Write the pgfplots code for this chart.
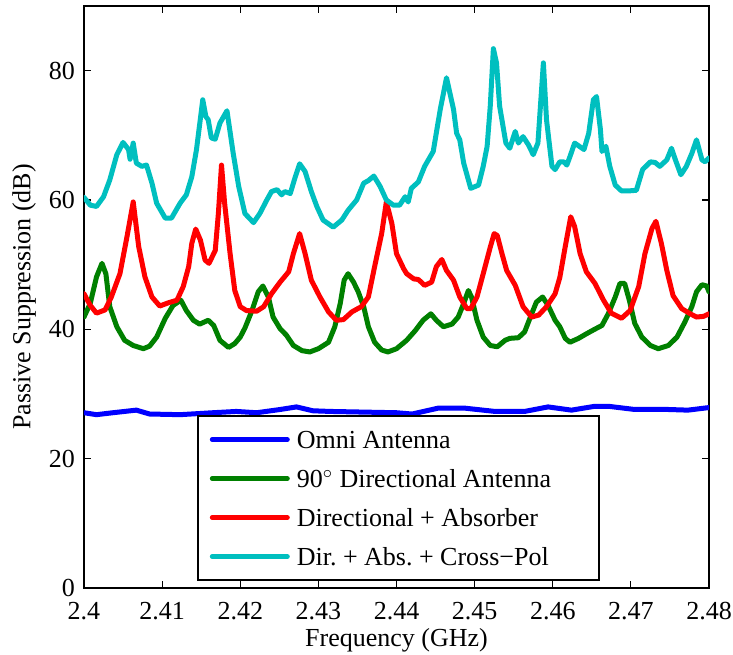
\documentclass[border=0pt]{standalone}
\usepackage{pgfplots}
\pgfplotsset{compat=1.18}
\usepackage{fontspec}
\setmainfont{Liberation Serif}
\definecolor{mblue}{RGB}{0,0,255}
\definecolor{mgreen}{RGB}{0,128,0}
\definecolor{mred}{RGB}{255,0,0}
\definecolor{mcyan}{RGB}{0,191,191}
\newcommand{\myfont}{\fontsize{13}{15}\selectfont}
\begin{document}
\begin{tikzpicture}
\begin{axis}[
  width=312.5pt, height=291pt, scale only axis,
  xmin=2.4, xmax=2.48, ymin=0, ymax=90,
  xtick={2.4,2.41,2.42,2.43,2.44,2.45,2.46,2.47,2.48},
  xticklabels={2.4,2.41,2.42,2.43,2.44,2.45,2.46,2.47,2.48},
  ytick={0,20,40,60,80},
  yticklabels={0,20,40,60,80},
  tick align=inside, tick pos=both,
  major tick length=3.5pt,
  axis line style={line width=0.75pt},
  tick style={line width=0.6pt, black},
  /pgf/number format/assume math mode=true,
  tick label style={font=\myfont},
  xticklabel style={inner sep=1pt, yshift=-5.8pt},
  yticklabel style={inner sep=1pt, xshift=-3.3pt},
  label style={font=\myfont},
  xlabel={Frequency (GHz)},
  ylabel={Passive Suppression (dB)},
  ylabel shift=2pt,
  every axis plot/.append style={line width=2.5pt, line join=round, line cap=round},
  legend image code/.code={\draw[#1] (0pt,0pt) -- (37.5pt,0pt);},
  legend cell align=left,
  legend style={at={(axis cs:2.41447,26.7)}, anchor=north west,
    draw=black, line width=0.75pt, fill=white, font=\myfont,
    inner xsep=6pt, inner ysep=2pt,
    /tikz/every odd column/.append style={column sep=1.5pt},
    nodes={inner sep=2pt, text height=12pt, text depth=3.5pt}},
]
\coordinate (bl) at (rel axis cs:0,0);
\coordinate (tr) at (rel axis cs:1,1);
\addplot[mblue] coordinates {
(2.4000,27.1)(2.4016,26.8)(2.4037,27.1)(2.4067,27.5)(2.4084,26.9)(2.4123,26.8)(2.4165,27.1)(2.4195,27.3)(2.4221,27.1)(2.4251,27.6)(2.4272,28.0)(2.4293,27.4)(2.4315,27.3)(2.4357,27.2)(2.4400,27.1)(2.4420,26.9)(2.4453,27.8)(2.4488,27.8)(2.4526,27.3)(2.4564,27.3)(2.4594,28.0)(2.4624,27.5)(2.4654,28.1)(2.4671,28.1)(2.4705,27.6)(2.4748,27.6)(2.4773,27.5)(2.4800,27.9)
};
\addlegendentry{Omni Antenna}
\addplot[mgreen] coordinates {
(2.4000,41.9)(2.4008,44.0)(2.4016,48.1)(2.4023,50.2)(2.4028,48.6)(2.4033,43.5)(2.4042,40.4)(2.4052,38.3)(2.4063,37.5)(2.4076,37.0)(2.4084,37.4)(2.4093,38.8)(2.4104,41.7)(2.4114,43.7)(2.4124,44.5)(2.4131,42.9)(2.4140,41.4)(2.4148,40.8)(2.4159,41.4)(2.4166,40.6)(2.4174,38.3)(2.4185,37.2)(2.4193,37.8)(2.4200,38.8)(2.4206,40.2)(2.4215,42.9)(2.4223,45.8)(2.4229,46.7)(2.4236,45.0)(2.4242,41.9)(2.4251,40.1)(2.4259,39.1)(2.4268,37.5)(2.4279,36.7)(2.4289,36.5)(2.4300,37.0)(2.4313,38.0)(2.4321,40.4)(2.4328,44.0)(2.4333,47.6)(2.4338,48.6)(2.4345,47.3)(2.4351,45.8)(2.4358,43.5)(2.4364,40.4)(2.4372,38.0)(2.4381,36.8)(2.4389,36.5)(2.4400,37.0)(2.4413,38.3)(2.4424,39.8)(2.4434,41.4)(2.4444,42.4)(2.4451,41.4)(2.4460,40.4)(2.4471,40.8)(2.4479,41.9)(2.4486,44.0)(2.4492,46.0)(2.4496,45.0)(2.4503,41.4)(2.4511,38.8)(2.4520,37.5)(2.4529,37.3)(2.4539,38.3)(2.4545,38.6)(2.4556,38.7)(2.4564,39.6)(2.4573,42.4)(2.4579,44.2)(2.4587,45.0)(2.4594,43.7)(2.4603,41.4)(2.4609,40.4)(2.4616,38.6)(2.4622,38.0)(2.4633,38.6)(2.4643,39.3)(2.4652,39.9)(2.4663,40.6)(2.4671,42.4)(2.4680,45.0)(2.4686,47.1)(2.4692,47.1)(2.4698,44.5)(2.4705,40.9)(2.4714,38.8)(2.4725,37.5)(2.4735,37.0)(2.4748,37.5)(2.4759,38.8)(2.4769,41.1)(2.4778,43.5)(2.4784,45.8)(2.4791,46.9)(2.4797,46.7)(2.4800,45.8)
};
\addlegendentry{90$^{\circ}$ Directional Antenna}
\addplot[mred] coordinates {
(2.4000,45.5)(2.4008,43.7)(2.4016,42.5)(2.4027,43.0)(2.4035,45.0)(2.4046,48.6)(2.4055,54.3)(2.4063,59.7)(2.4070,52.8)(2.4078,48.1)(2.4087,45.0)(2.4097,43.6)(2.4108,44.1)(2.4119,44.5)(2.4127,46.6)(2.4134,49.7)(2.4138,53.3)(2.4143,55.5)(2.4149,53.8)(2.4155,50.7)(2.4160,50.2)(2.4168,52.2)(2.4172,57.9)(2.4176,65.4)(2.4180,59.5)(2.4187,51.7)(2.4193,46.0)(2.4200,43.5)(2.4208,42.9)(2.4221,42.8)(2.4230,43.5)(2.4240,45.5)(2.4251,47.3)(2.4262,48.9)(2.4268,51.7)(2.4276,54.8)(2.4283,51.7)(2.4291,47.6)(2.4302,45.0)(2.4313,42.7)(2.4323,41.4)(2.4332,41.5)(2.4343,42.7)(2.4355,43.5)(2.4364,45.0)(2.4372,49.7)(2.4381,54.8)(2.4387,59.7)(2.4394,56.4)(2.4400,51.7)(2.4409,49.4)(2.4413,48.6)(2.4422,47.8)(2.4428,47.7)(2.4436,46.8)(2.4445,47.3)(2.4451,49.7)(2.4458,50.8)(2.4464,49.1)(2.4473,47.6)(2.4481,45.0)(2.4490,43.2)(2.4495,43.2)(2.4503,45.0)(2.4511,48.6)(2.4520,52.7)(2.4525,54.8)(2.4529,54.5)(2.4535,51.7)(2.4541,49.1)(2.4552,46.8)(2.4562,43.5)(2.4573,41.9)(2.4582,42.2)(2.4592,43.5)(2.4603,45.5)(2.4609,48.0)(2.4616,52.8)(2.4623,57.4)(2.4628,55.9)(2.4635,51.7)(2.4643,48.9)(2.4654,47.1)(2.4665,44.5)(2.4675,42.5)(2.4688,41.7)(2.4699,42.9)(2.4710,46.6)(2.4718,51.7)(2.4727,55.6)(2.4732,56.7)(2.4739,53.3)(2.4746,49.1)(2.4754,45.2)(2.4765,43.2)(2.4776,42.4)(2.4784,41.9)(2.4793,42.0)(2.4800,42.4)
};
\addlegendentry{Directional + Absorber}
\addplot[mcyan] coordinates {
(2.4000,60.4)(2.4008,59.2)(2.4016,59.0)(2.4025,60.5)(2.4033,63.1)(2.4042,67.0)(2.4050,68.9)(2.4057,67.8)(2.4059,66.3)(2.4063,68.8)(2.4067,65.7)(2.4074,65.2)(2.4080,65.4)(2.4087,62.6)(2.4093,59.5)(2.4104,57.2)(2.4112,57.2)(2.4123,59.5)(2.4131,60.8)(2.4138,63.6)(2.4144,67.8)(2.4152,75.5)(2.4156,72.9)(2.4159,72.4)(2.4163,69.6)(2.4168,69.4)(2.4174,71.9)(2.4183,73.8)(2.4191,67.2)(2.4198,62.1)(2.4206,57.9)(2.4217,56.5)(2.4225,57.9)(2.4234,60.0)(2.4240,61.3)(2.4247,61.6)(2.4253,60.8)(2.4257,61.3)(2.4264,61.0)(2.4270,63.4)(2.4276,65.6)(2.4283,64.4)(2.4291,61.3)(2.4298,59.0)(2.4306,56.9)(2.4319,55.8)(2.4330,56.9)(2.4338,58.4)(2.4349,60.0)(2.4358,62.6)(2.4364,63.0)(2.4371,63.7)(2.4379,62.1)(2.4387,60.0)(2.4396,59.2)(2.4404,59.2)(2.4411,60.5)(2.4415,59.7)(2.4419,61.8)(2.4428,62.8)(2.4436,65.2)(2.4447,67.5)(2.4456,74.0)(2.4464,78.9)(2.4473,74.0)(2.4477,70.3)(2.4481,69.3)(2.4486,65.7)(2.4495,61.8)(2.4505,62.3)(2.4511,65.2)(2.4516,68.3)(2.4520,74.5)(2.4524,83.4)(2.4528,81.2)(2.4532,74.5)(2.4540,68.8)(2.4545,68.0)(2.4552,70.6)(2.4556,68.8)(2.4562,69.8)(2.4569,68.5)(2.4575,67.0)(2.4581,68.8)(2.4588,81.2)(2.4592,72.4)(2.4599,65.2)(2.4603,64.7)(2.4609,65.9)(2.4614,65.9)(2.4618,65.4)(2.4622,66.7)(2.4628,68.8)(2.4634,68.3)(2.4640,67.8)(2.4646,70.3)(2.4652,75.5)(2.4656,76.0)(2.4661,70.9)(2.4663,67.5)(2.4668,68.3)(2.4673,65.2)(2.4680,62.3)(2.4688,61.4)(2.4697,61.4)(2.4707,61.5)(2.4715,64.7)(2.4725,65.9)(2.4731,65.8)(2.4737,65.2)(2.4746,66.2)(2.4752,68.0)(2.4757,66.2)(2.4764,63.9)(2.4771,65.2)(2.4778,67.2)(2.4784,69.3)(2.4791,66.2)(2.4795,65.9)(2.4800,66.5)
};
\addlegendentry{Dir.\ + Abs.\ + Cross−Pol\rule{17pt}{0pt}}
\end{axis}
\pgfresetboundingbox
\path ([shift={(-42pt,-33.5pt)}]bl) rectangle ([shift={(12pt,3pt)}]tr);
\end{tikzpicture}
\end{document}
